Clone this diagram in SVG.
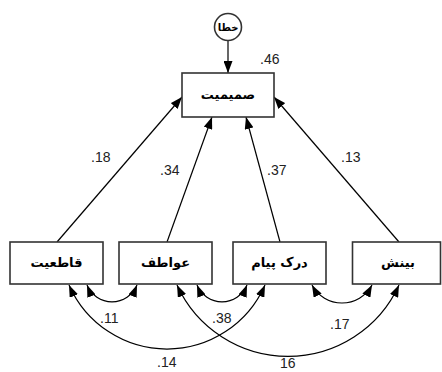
<svg xmlns="http://www.w3.org/2000/svg" width="442" height="372" viewBox="0 0 442 372">
<defs>
<marker id="ah" viewBox="0 0 12 9" refX="12" refY="4.5" markerWidth="12" markerHeight="9" markerUnits="userSpaceOnUse" orient="auto-start-reverse">
<path d="M0,0 L12,4.5 L0,9 z" fill="#000"/>
</marker>
</defs>
<style>
.box{fill:#fff;stroke:#333;stroke-width:1.6}
.lbl{font-family:"DejaVu Sans",sans-serif;font-weight:bold;font-size:13px;fill:#000;text-anchor:middle}
.num{font-family:"Liberation Sans",Arial,sans-serif;font-size:14px;fill:#222}
.ln{fill:none;stroke:#000;stroke-width:1.2}
</style>
<rect width="442" height="372" fill="#fff"/>
<g id="connectors">
<line class="ln" x1="228" y1="40" x2="228" y2="73" marker-end="url(#ah)"/>
<line class="ln" x1="57" y1="242" x2="182" y2="97" marker-end="url(#ah)"/>
<line class="ln" x1="167" y1="242" x2="212" y2="117" marker-end="url(#ah)"/>
<line class="ln" x1="280" y1="242" x2="246" y2="117" marker-end="url(#ah)"/>
<line class="ln" x1="399" y1="242" x2="274" y2="97" marker-end="url(#ah)"/>
<path class="ln" d="M87,285 A27,27 0 0 0 137,285" marker-start="url(#ah)" marker-end="url(#ah)"/>
<path class="ln" d="M197,285 A27,27 0 0 0 247,285" marker-start="url(#ah)" marker-end="url(#ah)"/>
<path class="ln" d="M312,285 A34,34 0 0 0 372,285" marker-start="url(#ah)" marker-end="url(#ah)"/>
<path class="ln" d="M69,285 A107,107 0 0 0 265,285" marker-start="url(#ah)" marker-end="url(#ah)"/>
<path class="ln" d="M177,285 A122,122 0 0 0 399,285" marker-start="url(#ah)" marker-end="url(#ah)"/>
</g>
<g id="node-error">
<circle cx="228" cy="27" r="13.5" fill="#fff" stroke="#333" stroke-width="1.6"/>
<text class="lbl" x="228" y="31" style="font-size:10px">خطا</text>
</g>
<g id="node-intimacy">
<rect class="box" x="182" y="73" width="92" height="44"/>
<text class="lbl" x="228" y="99">صمیمیت</text>
<text class="num" x="260" y="64">.46</text>
</g>
<g id="node-decisiveness">
<rect class="box" x="10" y="242" width="93" height="42"/>
<text class="lbl" x="56.5" y="267">قاطعیت</text>
</g>
<g id="node-emotions">
<rect class="box" x="119" y="242" width="93" height="42"/>
<text class="lbl" x="165.5" y="267">عواطف</text>
</g>
<g id="node-message">
<rect class="box" x="233" y="242" width="93" height="42"/>
<text class="lbl" x="279.5" y="267">درک پیام</text>
</g>
<g id="node-insight">
<rect class="box" x="352.5" y="242" width="88" height="42"/>
<text class="lbl" x="398" y="267">بینش</text>
</g>
<g id="labels">
<text class="num" x="91" y="162">.18</text>
<text class="num" x="160" y="175">.34</text>
<text class="num" x="267" y="175">.37</text>
<text class="num" x="341" y="162">.13</text>
<text class="num" x="100" y="323">.11</text>
<text class="num" x="212" y="323">.38</text>
<text class="num" x="330" y="329">.17</text>
<text class="num" x="157" y="367">.14</text>
<text class="num" x="280" y="368">16</text>
</g>
</svg>
